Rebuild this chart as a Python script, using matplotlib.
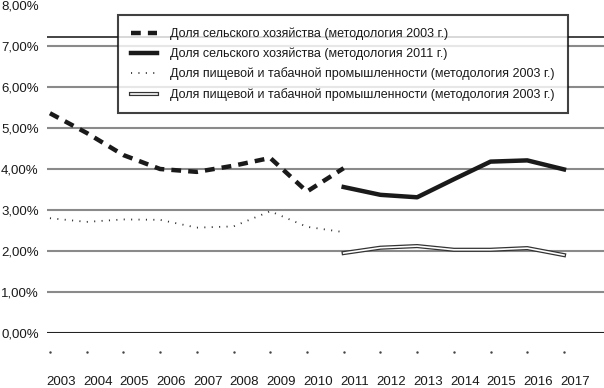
import matplotlib.pyplot as plt
import matplotlib.transforms as mtransforms
import matplotlib.patheffects as pe

plt.rcParams['font.family'] = ['Liberation Sans', 'DejaVu Sans']

years = list(range(2003, 2018))

agri_2003_years = list(range(2003, 2012))
agri_2003 = [5.36, 4.88, 4.34, 4.0, 3.93, 4.08, 4.27, 3.45, 4.02]

agri_2011_years = list(range(2011, 2018))
agri_2011 = [3.56, 3.37, 3.31, 3.75, 4.18, 4.21, 3.99]

food_2003_years = list(range(2003, 2012))
food_2003 = [2.80, 2.71, 2.77, 2.76, 2.57, 2.6, 2.97, 2.59, 2.46]

food_2011_years = list(range(2011, 2018))
food_2011 = [1.95, 2.08, 2.12, 2.03, 2.03, 2.07, 1.9]

labels = [
    'Доля сельского хозяйства (методология 2003 г.)',
    'Доля сельского хозяйства (методология 2011 г.)',
    'Доля пищевой и табачной промышленности (методология 2003 г.)',
    'Доля пищевой и табачной промышленности (методология 2003 г.)',
]

fig = plt.figure(figsize=(6.04, 3.88), dpi=100)
ax = fig.add_axes([47 / 604, 1 - 333 / 388, 557 / 604, 328 / 388])
ax.set_xlim(2002.92, 2018.09)
ax.set_ylim(0, 8)

for v in range(0, 8):
    ax.axhline(v, color='#222222' if v == 0 else '#8a8a8a', lw=1.5, zorder=1)
ax.axhline(7.22, color='#111111', lw=1.1, zorder=1)

ax.plot(agri_2003_years, agri_2003, color='#1a1a1a', lw=3.2,
        dashes=(2.2, 1.6), label=labels[0], zorder=3)
ax.plot(agri_2011_years, agri_2011, color='#1a1a1a', lw=3.2,
        label=labels[1], zorder=3)
ax.plot(food_2003_years, food_2003, color='#333333', lw=1.3,
        dashes=(0.6, 3.5), label=labels[2], zorder=3)
ax.plot(food_2011_years, food_2011, color='#333333', lw=3.0, zorder=3,
        label=labels[3],
        path_effects=[pe.Stroke(linewidth=3.0, foreground='#333333'),
                      pe.Stroke(linewidth=1.2, foreground='white')])

# small dots under the axis instead of tick marks
ax.plot(years, [-0.46] * len(years), ls='none', marker='.', ms=1.5,
        color='#444444', clip_on=False)

for s in ax.spines.values():
    s.set_visible(False)

ax.set_yticks(range(0, 9))
ax.set_yticklabels(['%d,00%%' % v for v in range(0, 9)])
ax.set_xticks(years)
ax.set_xticklabels([str(y) for y in years])
ax.tick_params(axis='both', length=0, labelsize=9.5, labelcolor='#1a1a1a')
ax.tick_params(axis='x', pad=31)
ax.tick_params(axis='y', pad=6)
offset = mtransforms.ScaledTranslation(11 / 100, 0, fig.dpi_scale_trans)
for lab in ax.get_xticklabels():
    lab.set_transform(lab.get_transform() + offset)

leg = fig.legend(loc='upper left', bbox_to_anchor=(118 / 604, 1 - 15 / 388),
                 frameon=True, fancybox=False, edgecolor='#111111',
                 fontsize=9.0, handlelength=2.1, labelspacing=0.6,
                 borderpad=1.0, handletextpad=1.1, borderaxespad=0)
leg.get_frame().set_linewidth(1.5)
for t in leg.get_texts():
    t.set_color('#1a1a1a')

fig.savefig('out.png', dpi=100)
